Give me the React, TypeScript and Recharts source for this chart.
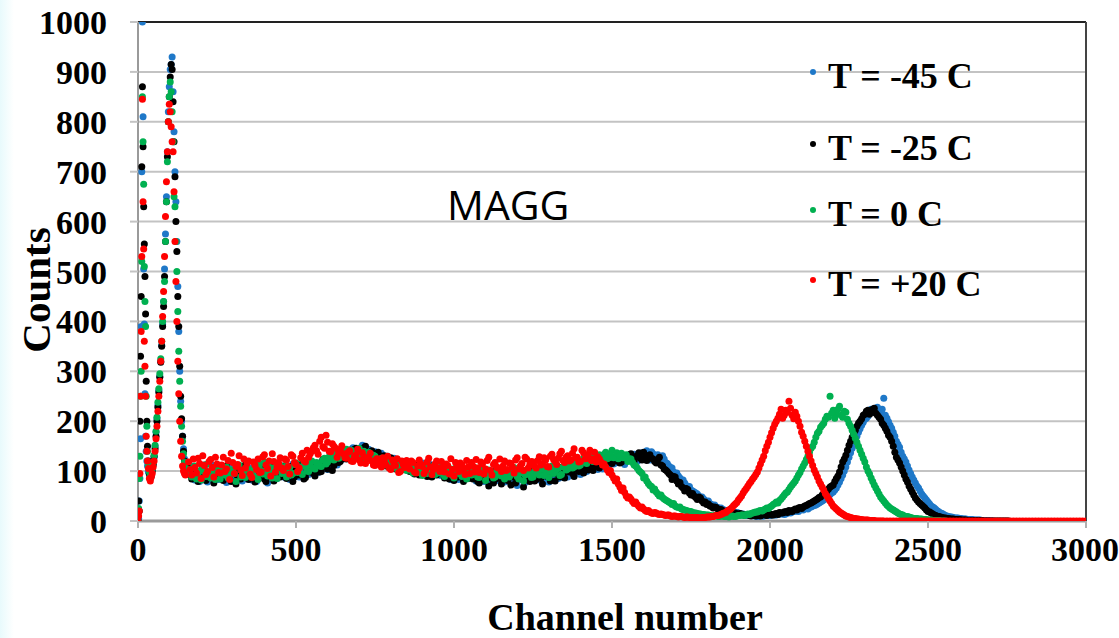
import React from "react";
import {
  ScatterChart,
  Scatter,
  XAxis,
  YAxis,
  CartesianGrid,
  ReferenceLine,
} from "recharts";

// channel grid for the low-energy peak region (0-150)
const PEAK_CH = [
  0, 2, 4, 6, 8, 10, 12, 14, 16, 18, 20, 22, 24, 26, 28, 30, 33, 36, 39, 42, 45, 48, 51, 54, 57, 60,
  63, 66, 69, 72, 75, 78, 81, 84, 87, 90, 93, 96, 99, 102, 105, 108, 111, 114, 117, 120, 123, 126,
  129, 132, 135, 138, 141, 144, 147, 150,
];

// channel grids for the rest of the spectrum: A = 160, 170, ... and B = 165, 175, ...
const CH_A = Array.from({ length: 285 }, (_, i) => 160 + i * 10);
const CH_B = Array.from({ length: 285 }, (_, i) => 165 + i * 10);

const PEAK_M45 = [
  0, 5, 40, 85, 165, 390, 700, 1000, 810, 505, 395, 255, 170, 140, 120, 110, 98, 92, 88, 95, 102,
  115, 128, 150, 178, 205, 232, 262, 290, 320, 352, 395, 440, 505, 575, 650, 740, 820, 870, 905, 915,
  930, 860, 780, 700, 640, 560, 470, 380, 300, 240, 200, 170, 145, 125, 110,
];
const PEAK_M25 = [
  0, 40, 20, 200, 330, 450, 710, 870, 750, 630, 555, 490, 415, 280, 200, 150, 120, 95, 85, 90, 100,
  112, 130, 145, 170, 200, 228, 258, 288, 318, 350, 390, 430, 490, 560, 640, 730, 800, 850, 890, 915,
  905, 840, 760, 690, 600, 540, 450, 390, 310, 250, 205, 170, 140, 120, 108,
];
const PEAK_0 = [
  0, 25, 85, 130, 250, 300, 520, 850, 760, 675, 510, 440, 390, 250, 190, 140, 110, 98, 92, 96, 105,
  118, 132, 152, 180, 208, 238, 265, 295, 325, 360, 400, 440, 480, 560, 640, 720, 800, 850, 880, 860,
  820, 760, 650, 630, 560, 500, 420, 340, 280, 230, 190, 160, 135, 118, 106,
];
const PEAK_P20 = [
  0, 10, 20, 95, 250, 380, 530, 845, 640, 545, 360, 310, 250, 170, 140, 120, 105, 85, 80, 88, 95,
  108, 120, 140, 165, 190, 220, 250, 280, 320, 360, 410, 460, 530, 610, 680, 740, 800, 835, 820, 790,
  760, 740, 660, 560, 480, 400, 320, 255, 200, 160, 130, 110, 100, 95, 92,
];

// one row = 100 channels (10 points)
const A_M45 = [
  94, 110, 82, 99, 87, 105, 78, 97, 109, 85,
  90, 104, 77, 96, 111, 84, 93, 80, 100, 88,
  82, 99, 108, 87, 94, 76, 103, 96, 85, 110,
  92, 101, 83, 114, 95, 88, 100, 109, 93, 105,
  113, 97, 108, 121, 103, 116, 128, 112, 134, 124,
  138, 126, 147, 135, 129, 152, 137, 144, 131, 139,
  125, 136, 118, 130, 112, 126, 120, 107, 117, 110,
  112, 98, 107, 94, 116, 101, 90, 109, 96, 104,
  91, 105, 96, 83, 101, 92, 110, 85, 97, 88,
  99, 80, 93, 86, 97, 76, 91, 102, 81, 94,
  78, 92, 100, 83, 71, 96, 87, 81, 99, 84,
  97, 82, 90, 104, 78, 94, 99, 85, 96, 101,
  88, 103, 97, 112, 93, 106, 99, 117, 104, 110,
  118, 104, 125, 111, 120, 116, 128, 121, 113, 130,
  124, 134, 119, 130, 127, 141, 122, 135, 129, 126,
  131, 117, 110, 106, 94, 90, 80, 76, 66, 62,
  58, 54, 47, 44, 38, 35, 31, 28, 25, 23,
  21, 18, 17, 15, 16, 13, 12, 11, 12, 10,
  9, 11, 10, 12, 11, 13, 12, 14, 15, 14,
  17, 18, 20, 19, 23, 25, 24, 28, 31, 34,
  38, 42, 47, 53, 58, 66, 78, 92, 108, 128,
  146, 162, 178, 192, 204, 210, 224, 218, 228, 220,
  246, 206, 192, 178, 160, 148, 130, 118, 102, 88,
  76, 66, 54, 46, 38, 30, 26, 20, 16, 13,
  10, 8, 7, 6, 5, 4, 4, 3, 3, 2,
  2, 1, 1, 1, 0,
];
const B_M45 = [
  101, 88, 96, 79, 107, 92, 86, 112, 94, 83,
  97, 85, 109, 91, 82, 103, 89, 98, 84, 106,
  93, 79, 101, 95, 88, 106, 84, 99, 104, 92,
  87, 108, 96, 90, 103, 97, 112, 94, 101, 110,
  99, 116, 105, 118, 110, 123, 119, 131, 126, 137,
  132, 143, 129, 140, 146, 133, 141, 128, 137, 122,
  130, 115, 127, 121, 108, 122, 113, 118, 103, 115,
  104, 111, 99, 108, 95, 105, 113, 97, 102, 92,
  99, 87, 104, 91, 96, 83, 100, 93, 89, 102,
  86, 95, 88, 79, 92, 98, 83, 88, 96, 85,
  89, 79, 94, 88, 82, 92, 77, 95, 86, 91,
  86, 99, 93, 81, 98, 88, 102, 91, 87, 99,
  96, 92, 106, 100, 109, 98, 112, 106, 114, 103,
  111, 122, 115, 128, 114, 125, 120, 117, 127, 122,
  131, 126, 123, 137, 131, 128, 139, 126, 133, 121,
  124, 115, 107, 98, 96, 86, 82, 71, 69, 60,
  56, 50, 48, 41, 40, 33, 32, 27, 26, 22,
  20, 19, 16, 17, 14, 14, 12, 11, 11, 11,
  10, 10, 12, 11, 12, 12, 13, 14, 13, 16,
  16, 19, 20, 22, 22, 26, 27, 30, 32, 36,
  40, 45, 50, 56, 62, 72, 85, 100, 118, 137,
  154, 170, 185, 198, 206, 216, 221, 226, 217, 224,
  212, 199, 186, 170, 154, 138, 124, 110, 95, 82,
  70, 60, 50, 42, 34, 28, 23, 18, 15, 11,
  9, 8, 6, 6, 5, 4, 3, 3, 2, 2,
  2, 1, 1, 0, 0,
];
const A_M25 = [
  108, 84, 101, 79, 96, 112, 88, 93, 76, 104,
  99, 81, 110, 86, 95, 74, 102, 89, 113, 83,
  97, 78, 105, 91, 84, 114, 93, 80, 101, 88,
  110, 85, 96, 79, 104, 92, 115, 87, 98, 106,
  90, 112, 99, 118, 104, 125, 111, 130, 119, 135,
  124, 142, 131, 146, 128, 139, 150, 133, 141, 127,
  138, 122, 131, 116, 127, 109, 123, 114, 104, 118,
  99, 115, 103, 92, 110, 97, 106, 88, 112, 95,
  102, 86, 108, 93, 81, 104, 97, 79, 100, 90,
  84, 101, 76, 95, 88, 70, 99, 83, 92, 74,
  96, 81, 72, 98, 85, 90, 68, 94, 79, 101,
  83, 95, 74, 99, 88, 103, 80, 92, 107, 86,
  98, 110, 89, 104, 115, 96, 108, 120, 101, 113,
  106, 121, 112, 128, 115, 124, 132, 118, 129, 122,
  135, 120, 131, 126, 138, 121, 133, 124, 116, 128,
  110, 102, 95, 83, 88, 74, 69, 60, 63, 52,
  50, 43, 46, 36, 33, 30, 26, 27, 22, 21,
  18, 19, 15, 16, 13, 14, 12, 13, 10, 11,
  12, 10, 13, 11, 14, 12, 15, 17, 16, 19,
  21, 19, 24, 26, 25, 30, 33, 36, 40, 44,
  48, 55, 60, 68, 72, 85, 98, 118, 132, 152,
  168, 182, 196, 205, 214, 222, 218, 226, 212, 204,
  192, 180, 168, 150, 128, 116, 100, 84, 70, 58,
  46, 38, 32, 26, 19, 16, 12, 9, 8, 6,
  5, 4, 4, 3, 3, 2, 2, 1, 1, 1,
  1, 1, 0, 0, 0, 0, 0, 0, 0, 0,
];
const B_M25 = [
  92, 105, 87, 99, 110, 81, 97, 106, 85, 95,
  88, 107, 93, 79, 101, 90, 84, 108, 95, 99,
  86, 103, 95, 112, 79, 98, 107, 89, 94, 104,
  91, 102, 109, 88, 97, 111, 84, 103, 112, 95,
  106, 98, 123, 109, 115, 101, 128, 117, 124, 130,
  137, 129, 144, 134, 124, 147, 138, 129, 136, 121,
  126, 130, 110, 124, 118, 104, 116, 108, 119, 101,
  108, 94, 112, 99, 104, 89, 101, 111, 92, 105,
  93, 98, 84, 101, 95, 88, 103, 91, 85, 97,
  91, 79, 94, 82, 97, 86, 76, 90, 85, 96,
  84, 93, 88, 76, 91, 99, 82, 87, 95, 80,
  94, 85, 97, 89, 80, 96, 101, 88, 95, 104,
  103, 95, 108, 99, 106, 112, 102, 113, 109, 118,
  116, 111, 125, 119, 127, 120, 116, 128, 125, 133,
  124, 129, 137, 122, 128, 131, 126, 119, 123, 112,
  104, 99, 92, 89, 80, 77, 66, 65, 56, 55,
  47, 48, 40, 38, 34, 29, 28, 24, 23, 19,
  20, 17, 16, 14, 15, 12, 13, 11, 12, 10,
  11, 12, 12, 13, 12, 14, 13, 16, 18, 17,
  20, 22, 22, 27, 28, 31, 35, 38, 42, 47,
  52, 57, 64, 70, 79, 90, 108, 124, 142, 160,
  176, 190, 200, 212, 220, 214, 224, 216, 208, 196,
  186, 172, 160, 138, 122, 108, 92, 78, 64, 52,
  42, 35, 29, 22, 18, 14, 11, 9, 7, 6,
  5, 4, 3, 3, 2, 2, 1, 1, 1, 1,
  1, 0, 0, 0, 0, 0, 0, 0, 0, 0,
];
const A_0 = [
  103, 88, 110, 95, 82, 99, 114, 86, 92, 105,
  84, 97, 108, 91, 100, 79, 112, 94, 87, 103,
  96, 109, 83, 101, 118, 90, 97, 106, 85, 111,
  98, 88, 107, 95, 116, 102, 93, 110, 99, 120,
  104, 115, 109, 126, 118, 131, 122, 140, 128, 136,
  144, 131, 139, 127, 146, 133, 125, 138, 121, 130,
  117, 126, 112, 123, 108, 119, 104, 115, 110, 101,
  113, 96, 108, 102, 91, 110, 99, 105, 93, 101,
  108, 89, 97, 104, 86, 99, 110, 92, 84, 100,
  93, 106, 87, 98, 81, 102, 95, 88, 104, 90,
  84, 99, 93, 107, 89, 96, 80, 102, 94, 88,
  101, 92, 108, 96, 87, 110, 99, 105, 93, 114,
  104, 117, 108, 121, 112, 126, 115, 130, 119, 124,
  133, 121, 138, 127, 142, 130, 125, 136, 128, 119,
  124, 112, 106, 98, 86, 80, 71, 62, 58, 50,
  47, 42, 38, 33, 30, 27, 24, 22, 20, 19,
  16, 15, 14, 13, 12, 11, 10, 11, 9, 10,
  9, 8, 10, 9, 11, 12, 11, 14, 15, 17,
  18, 21, 22, 26, 28, 33, 38, 41, 48, 56,
  63, 72, 80, 92, 104, 116, 130, 146, 158, 176,
  188, 196, 210, 250, 222, 214, 230, 208, 218, 196,
  182, 166, 150, 134, 118, 100, 86, 72, 60, 48,
  40, 32, 26, 22, 18, 14, 12, 9, 8, 6,
  5, 4, 4, 3, 2, 2, 1, 1, 0, 0,
];
const B_0 = [
  95, 107, 84, 100, 111, 89, 97, 104, 83, 99,
  108, 92, 86, 102, 95, 110, 88, 99, 105, 90,
  102, 88, 113, 94, 99, 108, 86, 101, 113, 95,
  109, 101, 92, 113, 97, 108, 119, 100, 112, 106,
  117, 110, 122, 114, 129, 124, 135, 126, 133, 141,
  136, 142, 129, 137, 131, 140, 128, 124, 132, 117,
  122, 114, 120, 107, 116, 111, 102, 113, 106, 108,
  101, 106, 97, 112, 104, 95, 102, 110, 98, 96,
  94, 103, 100, 91, 106, 95, 89, 101, 97, 92,
  100, 88, 96, 104, 91, 97, 86, 101, 92, 97,
  93, 88, 101, 96, 84, 101, 92, 98, 87, 100,
  96, 103, 91, 104, 99, 95, 105, 91, 108, 102,
  111, 106, 114, 110, 119, 118, 121, 124, 127, 120,
  127, 134, 125, 132, 127, 137, 131, 127, 133, 125,
  117, 110, 101, 95, 88, 75, 69, 64, 54, 52,
  44, 40, 36, 35, 28, 28, 23, 21, 19, 17,
  16, 14, 13, 12, 12, 10, 11, 9, 10, 9,
  9, 10, 9, 10, 11, 12, 13, 13, 16, 18,
  20, 20, 24, 25, 30, 35, 36, 44, 52, 58,
  68, 76, 86, 97, 110, 123, 138, 150, 168, 180,
  192, 204, 208, 216, 206, 224, 212, 220, 204, 190,
  174, 158, 142, 126, 108, 94, 79, 66, 54, 44,
  36, 29, 24, 20, 16, 13, 10, 9, 7, 5,
  5, 4, 3, 3, 2, 1, 1, 1, 0, 0,
];
const A_P20 = [
  118, 92, 107, 126, 85, 111, 99, 123, 88, 114,
  96, 128, 104, 83, 117, 109, 131, 91, 106, 120,
  87, 112, 124, 98, 133, 105, 90, 119, 108, 127,
  101, 122, 94, 130, 113, 106, 136, 118, 128, 140,
  152, 134, 168, 146, 158, 139, 150, 128, 144, 135,
  126, 141, 119, 133, 122, 137, 115, 128, 120, 111,
  124, 108, 119, 130, 103, 116, 125, 99, 112, 121,
  104, 117, 96, 122, 109, 101, 126, 93, 114, 106,
  119, 98, 111, 125, 90, 108, 116, 102, 121, 95,
  110, 123, 97, 114, 104, 128, 92, 117, 106, 99,
  120, 103, 115, 96, 127, 110, 101, 124, 113, 118,
  106, 129, 115, 122, 108, 134, 119, 126, 140, 117,
  131, 122, 145, 128, 119, 137, 126, 142, 124, 118,
  124, 112, 108, 97, 92, 80, 74, 61, 57, 46,
  44, 35, 33, 26, 24, 19, 18, 15, 16, 13,
  13, 11, 12, 9, 10, 8, 9, 7, 8, 7,
  6, 7, 6, 7, 8, 8, 9, 11, 12, 15,
  17, 22, 27, 34, 42, 50, 61, 70, 79, 88,
  98, 114, 130, 150, 168, 186, 200, 214, 206, 222,
  240, 212, 218, 200, 178, 160, 140, 120, 102, 88,
  74, 62, 50, 40, 30, 24, 18, 14, 10, 8,
  6, 5, 4, 3, 2, 2, 1, 1, 0, 0,
  0, 0, 0, 0, 0, 0, 0, 0, 0, 0,
  0, 0, 0, 0, 0, 0, 0, 0, 0, 0,
  0, 0, 0, 0, 0, 0, 0, 0, 0, 0,
  0, 0, 0, 0, 0, 0, 0, 0, 0, 0,
  0, 0, 0, 0, 0, 0, 0, 0, 0, 0,
  0, 0, 0, 0, 0, 0, 0, 0, 0, 0,
  0, 0, 0, 0, 0,
];
const B_P20 = [
  103, 124, 96, 115, 131, 93, 119, 107, 128, 97,
  112, 99, 121, 136, 95, 113, 102, 124, 115, 94,
  118, 103, 97, 129, 112, 120, 135, 98, 116, 106,
  124, 109, 133, 117, 99, 127, 121, 142, 135, 147,
  141, 160, 149, 172, 140, 155, 146, 137, 151, 127,
  138, 120, 130, 144, 116, 129, 124, 136, 112, 125,
  117, 127, 112, 106, 122, 111, 97, 120, 107, 115,
  120, 98, 110, 114, 95, 118, 108, 103, 120, 99,
  107, 114, 94, 103, 117, 99, 112, 93, 108, 117,
  98, 106, 118, 94, 121, 101, 113, 108, 124, 110,
  101, 116, 108, 122, 104, 115, 128, 106, 119, 110,
  121, 112, 127, 109, 130, 123, 113, 135, 121, 128,
  120, 136, 127, 118, 142, 125, 133, 121, 138, 129,
  118, 114, 102, 101, 86, 84, 68, 66, 50, 48,
  39, 38, 29, 28, 21, 21, 16, 17, 14, 14,
  12, 12, 10, 10, 9, 9, 8, 8, 7, 7,
  7, 6, 7, 7, 8, 9, 10, 11, 13, 16,
  20, 24, 31, 37, 46, 56, 65, 75, 84, 93,
  106, 122, 141, 158, 177, 194, 206, 224, 212, 218,
  226, 205, 210, 190, 170, 150, 130, 111, 95, 80,
  68, 55, 45, 35, 27, 21, 16, 12, 9, 7,
  5, 4, 3, 2, 2, 1, 1, 0, 0, 0,
];

const X_TICKS = [0, 500, 1000, 1500, 2000, 2500, 3000];
const Y_TICKS = [0, 100, 200, 300, 400, 500, 600, 700, 800, 900, 1000];

const SERIES = [
  { name: "T = -45 C", color: "#1f78c8", peak: PEAK_M45, a: A_M45, b: B_M45 },
  { name: "T = -25 C", color: "#000000", peak: PEAK_M25, a: A_M25, b: B_M25 },
  { name: "T = 0 C", color: "#00b050", peak: PEAK_0, a: A_0, b: B_0 },
  { name: "T = +20 C", color: "#ff0000", peak: PEAK_P20, a: A_P20, b: B_P20 },
];

const toPoints = (peak: number[], a: number[], b: number[]) => [
  ...peak.map((y, i) => ({ x: PEAK_CH[i], y })),
  ...a.map((y, i) => ({ x: CH_A[i], y })),
  ...b.map((y, i) => ({ x: CH_B[i], y })),
];

const serif = "'Liberation Serif', 'Times New Roman', serif";
const tickStyle = { fontFamily: serif, fontWeight: 700, fontSize: 34, fill: "#000" };

export default function App() {
  return (
    <div
      style={{
        position: "absolute",
        left: 0,
        top: 0,
        width: 1119,
        height: 638,
        background: "#fff",
        overflow: "hidden",
      }}
    >
      <div
        style={{
          position: "absolute",
          left: 0,
          top: 0,
          width: 14,
          height: 638,
          background: "linear-gradient(to right, #e8fafc, #ffffff)",
        }}
      />
      <ScatterChart
        width={1119}
        height={638}
        margin={{ top: 22, right: 33, bottom: 0, left: 0 }}
      >
        <CartesianGrid horizontal vertical={false} stroke="#c3c3c3" strokeWidth={2} />
        <XAxis
          type="number"
          dataKey="x"
          domain={[0, 3000]}
          ticks={X_TICKS}
          height={117}
          axisLine={{ stroke: "#9a9a9a", strokeWidth: 3 }}
          tickLine={{ stroke: "#b0b0b0", strokeWidth: 2 }}
          tickSize={7}
          tickMargin={9}
          tick={tickStyle}
          allowDataOverflow
        />
        <YAxis
          type="number"
          dataKey="y"
          domain={[0, 1000]}
          ticks={Y_TICKS}
          width={138}
          axisLine={{ stroke: "#9a9a9a", strokeWidth: 2 }}
          tickLine={{ stroke: "#c3c3c3", strokeWidth: 2 }}
          tickSize={8}
          tickMargin={23}
          tick={tickStyle}
          allowDataOverflow
        />
        <ReferenceLine y={1000} stroke="#222" strokeWidth={2} />
        <ReferenceLine x={3000} stroke="#444" strokeWidth={2} />
        {SERIES.map((s) => (
          <Scatter
            key={s.name}
            name={s.name}
            data={toPoints(s.peak, s.a, s.b)}
            isAnimationActive={false}
            shape={(p: any) => <circle cx={p.cx} cy={p.cy} r={3.5} fill={s.color} />}
          />
        ))}
      </ScatterChart>

      {/* legend */}
      {SERIES.map((s, i) => (
        <div
          key={s.name}
          style={{
            position: "absolute",
            left: 810,
            top: [56, 128, 194, 264][i],
            height: 40,
            display: "flex",
            alignItems: "center",
            fontFamily: serif,
            fontWeight: 700,
            fontSize: 36,
            color: "#000",
            whiteSpace: "nowrap",
          }}
        >
          <span
            style={{
              display: "inline-block",
              width: 6,
              height: 6,
              borderRadius: 3,
              background: s.color,
              marginRight: 12,
              marginTop: -8,
            }}
          />
          {s.name}
        </div>
      ))}

      <div
        style={{
          position: "absolute",
          left: 447,
          top: 176,
          fontFamily: "'Open Sans', sans-serif",
          fontSize: 41,
          color: "#000",
        }}
      >
        MAGG
      </div>

      <div
        style={{
          position: "absolute",
          left: 36,
          top: 290,
          transform: "translate(-50%, -50%) rotate(-90deg)",
          fontFamily: serif,
          fontWeight: 700,
          fontSize: 41,
          color: "#000",
        }}
      >
        Counts
      </div>

      <div
        style={{
          position: "absolute",
          left: 625,
          top: 617,
          transform: "translate(-50%, -50%)",
          fontFamily: serif,
          fontWeight: 700,
          fontSize: 38,
          color: "#000",
          whiteSpace: "nowrap",
        }}
      >
        Channel number
      </div>
    </div>
  );
}
